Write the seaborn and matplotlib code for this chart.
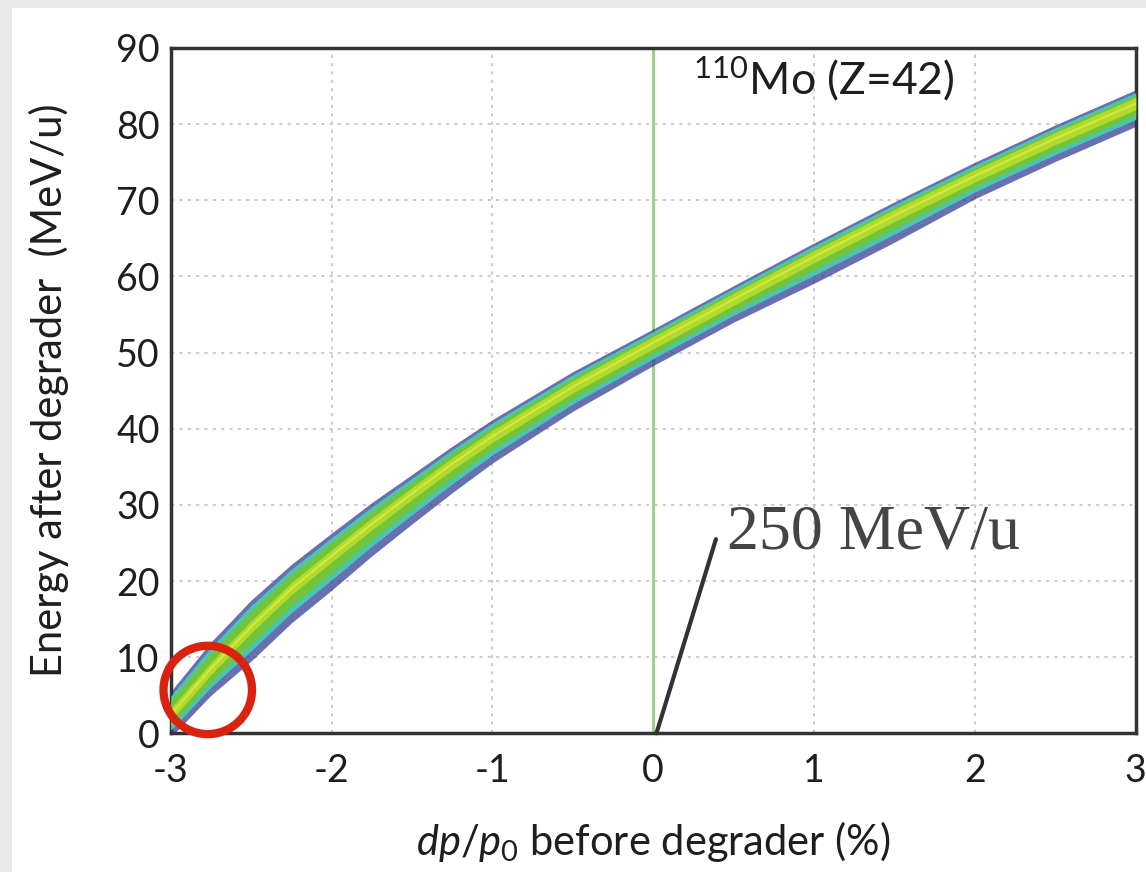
import matplotlib
matplotlib.use("Agg")
import matplotlib.pyplot as plt
from matplotlib.patches import Rectangle, Ellipse
import numpy as np
import pandas as pd
import seaborn as sns

# Band: centre of the distribution and its spread
dp = [-3.0, -2.75, -2.5, -2.25, -2.0, -1.75, -1.5, -1.25, -1.0, -0.5,
      0.0, 0.5, 1.0, 1.5, 2.0, 2.5, 3.0]
energy = [2.5, 8.5, 14.0, 19.0, 23.3, 27.5, 31.5, 35.4, 39.0, 45.5,
          51.3, 57.0, 62.6, 68.0, 73.2, 78.1, 82.7]
spread_up = [3.0, 3.5, 3.5, 3.2, 3.0, 2.8, 2.5, 2.3, 2.2, 2.0,
             1.8, 1.8, 1.8, 1.8, 1.8, 1.8, 1.8]
spread_down = [3.0, 3.5, 4.5, 4.5, 4.5, 4.2, 4.0, 3.8, 3.5, 3.2,
               3.0, 3.0, 3.5, 3.5, 3.0, 3.0, 3.0]

x_ticks = [-3, -2, -1, 0, 1, 2, 3]
y_ticks = [0, 10, 20, 30, 40, 50, 60, 70, 80, 90]

df = pd.DataFrame({"dp": dp, "energy": energy})
up = np.array(spread_up)
down = np.array(spread_down)
centre = np.array(energy)

sns.set_theme(style="white")
plt.rcParams["font.family"] = ["Lato", "DejaVu Sans"]
plt.rcParams["mathtext.fontset"] = "custom"
plt.rcParams["mathtext.rm"] = "Lato"
plt.rcParams["mathtext.it"] = "Lato:italic"

fig = plt.figure(figsize=(11.46, 8.72), dpi=100)
fig.patch.set_facecolor("#e9e9e9")
fig.patches.append(Rectangle((12 / 1146, 0), 1, 1 - 8 / 872, transform=fig.transFigure,
                             facecolor="white", edgecolor="none", zorder=-10))
ax = fig.add_axes([0.149, 0.159, 0.842, 0.786])

# layered band: blue halo, teal, green, yellow core
ax.fill_between(dp, centre - down, centre + up, color="#26348f", alpha=0.7, lw=0, zorder=2)
ax.fill_between(dp, centre - down * 0.7, centre + up * 0.8, color="#4cc4b4", lw=0, zorder=3)
ax.fill_between(dp, centre - down * 0.5, centre + up * 0.6, color="#72c43a", lw=0, zorder=4)
ax.fill_between(dp, centre - 0.8, centre + 0.8, color="#b2da2e", lw=0, zorder=5)
sns.lineplot(data=df, x="dp", y="energy", ax=ax, color="#d2ea3a", lw=1.5, zorder=6)

ax.set_xlim(-3, 3)
ax.set_ylim(0, 90)
ax.set_xticks(x_ticks)
ax.set_yticks(y_ticks)
ax.tick_params(labelsize=27, colors="#1e1e1e", length=0)
ax.tick_params(axis="x", pad=14)
ax.tick_params(axis="y", pad=8)
ax.set_xticklabels([str(t) for t in x_ticks])

for t in x_ticks:
    if t not in (-3, 0, 3):
        ax.axvline(t, color="#c4c4c4", lw=1.2, ls=(0, (2, 3)), zorder=1)
for t in y_ticks[1:-1]:
    ax.axhline(t, color="#c4c4c4", lw=1.2, ls=(0, (2, 3)), zorder=1)
ax.axvline(0, color="#93d17c", lw=2, zorder=1)

for s in ax.spines.values():
    s.set_color("#333333")
    s.set_linewidth(2.5)

ax.set_xlabel(r"$dp/p_{0}$ before degrader (%)", fontsize=30, color="#1e1e1e", labelpad=22)
ax.set_ylabel("Energy after degrader  (MeV/u)", fontsize=30, color="#1e1e1e", labelpad=34)

ax.text(0.25, 86.0, r"$^{110}$Mo (Z=42)", fontsize=32, color="#1e1e1e", va="center", ha="left")

# annotation
ax.plot([0.02, 0.39], [0, 25.5], color="#333333", lw=3, zorder=7, clip_on=False)
ax.text(0.46, 26.3, "250 MeV/u", family="Liberation Serif", fontsize=46,
        color="#444444", va="center", ha="left", zorder=7)

# red circle on the low-energy end
ax.add_patch(Ellipse((-2.77, 5.7), 0.55, 11.6, fill=False, edgecolor="#d9230f",
                     lw=6, zorder=8, clip_on=False))

fig.savefig("out.png", dpi=100)
